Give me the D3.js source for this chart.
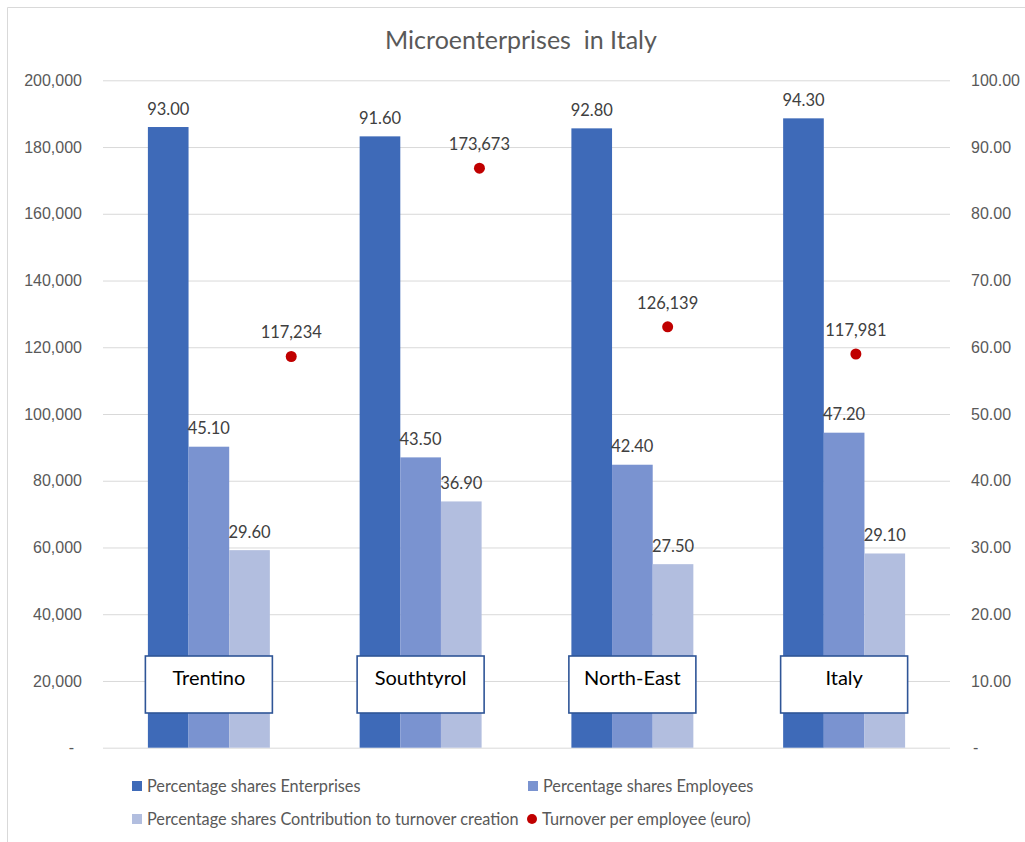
<!DOCTYPE html>
<html>
<head>
<meta charset="utf-8">
<script src="https://cdn.jsdelivr.net/npm/d3@7"></script>
<style>
  html, body { margin: 0; padding: 0; background: #fff; }
  svg { display: block; font-family: Lato, "Open Sans", sans-serif; }
</style>
</head>
<body>
<svg id="chart" width="1025" height="842"></svg>
<script>
// Regions on the category axis
const regions = ["Trentino", "Southtyrol", "North-East", "Italy"];

// Percentage shares (secondary axis, 0–100)
const seriesNames = [
  "Percentage shares Enterprises",
  "Percentage shares Employees",
  "Percentage shares Contribution to turnover creation"
];
const sharesEnterprises = [93.00, 91.60, 92.80, 94.30];
const sharesEmployees = [45.10, 43.50, 42.40, 47.20];
const sharesTurnover = [29.60, 36.90, 27.50, 29.10];

// Turnover per employee in euro (primary axis), plotted as scatter points
const turnoverName = "Turnover per employee (euro)";
const turnoverPerEmployee = [117234, 173673, 126139, 117981];
const turnoverX = [1, 2, 3, 4];
const turnoverXDomain = [0, 4.5];

// Axis ticks
const leftTicks = [0, 20000, 40000, 60000, 80000, 100000, 120000, 140000, 160000, 180000, 200000];
const rightTicks = [0, 10, 20, 30, 40, 50, 60, 70, 80, 90, 100];

const chartTitle = "Microenterprises  in Italy";

// ---- styling ----
const colors = ["#3E6AB8", "#7A93D0", "#B2BEDF"];
const dotColor = "#C00000";
const gridColor = "#D9D9D9";
const textColor = "#595959";
const labelColor = "#404040";

const svg = d3.select("#chart");
const W = 1025, H = 842;
const plot = { left: 103, right: 950, top: 80.3, bottom: 747.7 };

svg.append("rect").attr("width", W).attr("height", H).attr("fill", "#fff");
// chart frame
svg.append("path")
  .attr("d", `M7.5,${H} V7.5 H${W}`)
  .attr("fill", "none").attr("stroke", gridColor).attr("stroke-width", 1);

// scales
const x0 = d3.scaleBand().domain(regions)
  .range([plot.left, plot.right]).paddingInner(0.424).paddingOuter(0.212);
const x1 = d3.scaleBand().domain(seriesNames).range([0, x0.bandwidth()]);
const xs = d3.scaleLinear().domain(turnoverXDomain).range([plot.left, plot.right]);
const yLeft = d3.scaleLinear().domain([0, 200000]).range([plot.bottom, plot.top]);
const yRight = d3.scaleLinear().domain([0, 100]).range([plot.bottom, plot.top]);

// title
svg.append("text")
  .attr("x", 521).attr("y", 48.5)
  .attr("text-anchor", "middle")
  .attr("fill", textColor)
  .style("font-size", "25px")
  .style("white-space", "pre")
  .attr("xml:space", "preserve")
  .text(chartTitle);

// left axis with gridlines
const fmtLeft = d => d === 0 ? "-" : d3.format(",")(d);
const gLeft = svg.append("g")
  .attr("transform", `translate(${plot.left},0)`)
  .call(d3.axisLeft(yLeft).tickValues(leftTicks).tickFormat(fmtLeft)
    .tickSize(-(plot.right - plot.left)).tickPadding(21));
gLeft.select(".domain").remove();
gLeft.selectAll(".tick line").attr("stroke", gridColor).attr("stroke-width", 1);
gLeft.selectAll(".tick text")
  .attr("fill", textColor).style("font-size", "16px").attr("font-family", null)
  .attr("dx", d => d === 0 ? -8 : 0);

// right axis
const fmtRight = d => d === 0 ? "-" : d3.format(".2f")(d);
const gRight = svg.append("g")
  .attr("transform", `translate(${plot.right},0)`)
  .call(d3.axisRight(yRight).tickValues(rightTicks).tickFormat(fmtRight)
    .tickSize(0).tickPadding(21));
gRight.select(".domain").remove();
gRight.selectAll(".tick text")
  .attr("fill", textColor).style("font-size", "16px").attr("font-family", null)
  .attr("dx", d => d === 0 ? 2 : 0);

// bars
const seriesValues = [sharesEnterprises, sharesEmployees, sharesTurnover];
const barData = regions.map((r, i) => ({
  region: r,
  values: seriesNames.map((s, k) => ({ series: s, k, value: seriesValues[k][i] }))
}));

const groups = svg.append("g").selectAll("g")
  .data(barData).join("g")
  .attr("transform", d => `translate(${x0(d.region)},0)`);

groups.selectAll("rect")
  .data(d => d.values).join("rect")
  .attr("x", d => x1(d.series))
  .attr("y", d => yRight(d.value))
  .attr("width", x1.bandwidth())
  .attr("height", d => yRight(0) - yRight(d.value))
  .attr("fill", d => colors[d.k]);

groups.selectAll("text")
  .data(d => d.values).join("text")
  .attr("x", d => x1(d.series) + x1.bandwidth() / 2)
  .attr("y", d => yRight(d.value) - 12.5)
  .attr("text-anchor", "middle")
  .attr("fill", labelColor)
  .style("font-size", "16.5px")
  .text(d => d3.format(".2f")(d.value));

// turnover points
const dots = regions.map((r, i) => ({ region: r, x: turnoverX[i], value: turnoverPerEmployee[i] }));
const gDots = svg.append("g");
gDots.selectAll("circle").data(dots).join("circle")
  .attr("cx", d => xs(d.x))
  .attr("cy", d => yLeft(d.value))
  .attr("r", 5.5)
  .attr("fill", dotColor);
gDots.selectAll("text").data(dots).join("text")
  .attr("x", d => xs(d.x))
  .attr("y", d => yLeft(d.value) - 18)
  .attr("text-anchor", "middle")
  .attr("fill", labelColor)
  .style("font-size", "16.5px")
  .text(d => d3.format(",")(d.value));

// region name boxes
const boxW = 127, boxH = 57, boxTop = 656;
const gBoxes = svg.append("g").selectAll("g").data(regions).join("g")
  .attr("transform", d => `translate(${x0(d) + x0.bandwidth() / 2},${boxTop})`);
gBoxes.append("rect")
  .attr("x", -boxW / 2).attr("y", 0)
  .attr("width", boxW).attr("height", boxH)
  .attr("fill", "#fff").attr("stroke", "#2F5597").attr("stroke-width", 1.6);
gBoxes.append("text")
  .attr("x", 0).attr("y", 28.5)
  .attr("text-anchor", "middle")
  .attr("fill", "#000")
  .style("font-size", "20px")
  .text(d => d);

// legend
const legendItems = [
  { name: seriesNames[0], type: "rect", color: colors[0] },
  { name: seriesNames[1], type: "rect", color: colors[1] },
  { name: seriesNames[2], type: "rect", color: colors[2] },
  { name: turnoverName, type: "dot", color: dotColor }
];
const legendCols = [132, 528];
const legendRows = [786, 819];
const gLeg = svg.append("g").selectAll("g").data(legendItems).join("g")
  .attr("transform", (d, i) => `translate(${legendCols[i % 2]},${legendRows[Math.floor(i / 2)]})`);
gLeg.filter(d => d.type === "rect").append("rect")
  .attr("x", 0).attr("y", -5).attr("width", 10).attr("height", 10)
  .attr("fill", d => d.color);
gLeg.filter(d => d.type === "dot").append("circle")
  .attr("cx", 4).attr("cy", 0).attr("r", 5)
  .attr("fill", d => d.color);
gLeg.append("text")
  .attr("x", d => d.type === "dot" ? 14 : 15).attr("y", 5.8)
  .attr("fill", textColor)
  .style("font-size", "16.3px")
  .text(d => d.name);
</script>
</body>
</html>
